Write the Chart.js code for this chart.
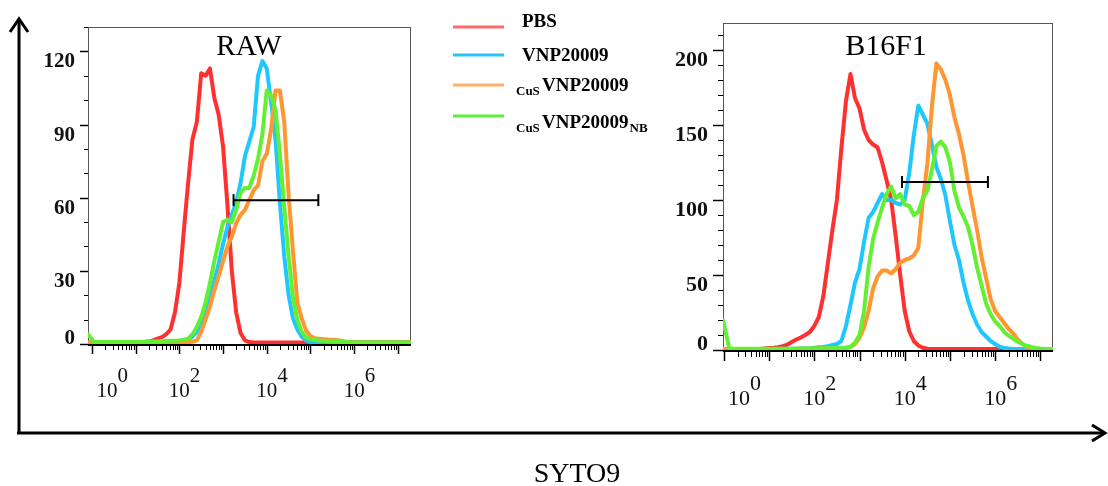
<!DOCTYPE html>
<html>
<head>
<meta charset="utf-8">
<script src="https://cdn.jsdelivr.net/npm/chart.js@4.4.1/dist/chart.umd.min.js"></script>
<style>
  html, body { margin: 0; padding: 0; background: #fff; }
  #wrap { position: relative; width: 1108px; height: 486px; overflow: hidden; }
  canvas, svg { position: absolute; left: 0; top: 0; }
</style>
</head>
<body>
<div id="wrap">
  <canvas id="rawChart" width="1108" height="486"></canvas>
  <canvas id="b16Chart" width="1108" height="486"></canvas>
  <svg width="1108" height="486" font-family="'Liberation Serif', 'Times New Roman', serif">
    <g stroke="#000" stroke-width="3" fill="none">
      <line x1="19" y1="434" x2="19" y2="20"/>
      <polyline points="10,32 19,19 28,32"/>
      <line x1="17" y1="433" x2="1104" y2="433"/>
      <polyline points="1092,425 1105,433 1092,441"/>
    </g>
    <g id="legend"></g>
    <text x="249" y="55" font-size="29" text-anchor="middle">RAW</text>
    <text x="886" y="55" font-size="30" text-anchor="middle">B16F1</text>
    <text x="577" y="482" font-size="28" text-anchor="middle">SYTO9</text>
  </svg>
</div>
<script>
// series names and colours
var seriesMain = ['PBS', 'VNP20009', 'VNP20009', 'VNP20009'];
var seriesPre = ['', '', 'CuS', 'CuS'];
var seriesSub = ['', '', '', 'NB'];
var lineColors = ['rgb(255,48,48)', 'rgb(30,200,255)', 'rgb(255,150,50)', 'rgb(100,240,50)'];
var legendColors = ['#ff6b6b', '#29c5f6', '#ffb066', '#5aee3a'];

// x bins, as powers of ten (SYTO9 intensity)
var rawExp = [-0.09, 0.05, 0.5, 1.0,
  1.2, 1.3, 1.4, 1.5, 1.6, 1.7, 1.8, 1.9,
  2.0, 2.1, 2.2, 2.3, 2.4, 2.5, 2.6, 2.7, 2.8, 2.9,
  3.0, 3.1, 3.2, 3.3, 3.4, 3.5, 3.6, 3.7, 3.8, 3.9,
  4.0, 4.1, 4.2, 4.3, 4.4, 4.5, 4.6, 4.7, 4.8, 4.9,
  5.0, 5.1, 5.2, 5.3, 5.4, 5.5, 5.6, 5.7, 5.8, 5.9,
  6.0, 6.1, 6.2,
  6.6, 7.0, 7.3];

var rawPBS = [0.6, 0.6, 0.6, 0.6,
  0.8, 1, 1.5, 2.2, 2.8, 4, 6, 13,
  25, 46, 66, 84, 91, 111, 110, 113, 101, 94,
  81, 57, 30, 13, 4.5, 1.5, 0.8, 0.6, 0.6, 0.6,
  0.6, 0.6, 0.6, 0.6, 0.6, 0.6, 0.6, 0.6, 0.6, 0.6,
  0.6, 0.6, 0.6, 0.6, 0.6, 0.6, 0.6, 0.6, 0.6, 0.6,
  0.6, 0.6, 0.6,
  0.6, 0.6, 0.6];
var rawVNP = [0.6, 0.6, 0.6, 0.6,
  0.6, 0.6, 0.7, 0.8, 0.8, 0.9, 1, 1.1,
  1.2, 1.5, 2, 3, 5, 9, 14, 19, 26, 33,
  41, 48, 53, 58, 66, 77, 83, 89, 110, 116,
  113, 99, 84, 58, 36, 20, 10.5, 6, 3, 1.5,
  0.8, 0.6, 0.6, 0.6, 0.6, 0.6, 0.6, 0.6, 0.6, 0.6,
  0.6, 0.6, 0.6,
  0.6, 0.6, 0.6];
var rawCuS = [0.6, 0.6, 0.6, 0.6,
  0.6, 0.6, 0.6, 0.6, 0.6, 0.6, 0.6, 0.6,
  0.6, 0.6, 0.7, 1, 1.5, 5, 10, 15.5, 22, 28,
  34, 40, 44, 49.5, 53, 55, 59, 63, 65, 75,
  78, 88, 104, 104, 91, 61, 38, 17, 10.5, 5.5,
  3.2, 2.4, 2.2, 2, 1.8, 1.7, 1.6, 1.3, 1, 0.8,
  0.6, 0.6, 0.6,
  0.6, 0.6, 0.6];
var rawNB = [4, 0.8, 0.8, 0.8,
  0.9, 1, 1, 1, 1.1, 1.2, 1.3, 1.3,
  1.4, 1.7, 2.2, 4, 7, 11, 17, 25, 34, 42,
  50, 51, 50, 55, 62, 64, 64, 69, 76, 86,
  104, 102, 96, 78, 56, 36, 19, 10, 5, 2.7,
  2, 1.7, 1.4, 1.3, 1.1, 1, 0.9, 0.8, 0.8, 0.7,
  0.6, 0.6, 0.6,
  0.6, 0.6, 0.6];

var b16Exp = [-0.02, 0.12, 0.5, 0.8, 0.9,
  1.0, 1.1, 1.2, 1.3, 1.4, 1.5, 1.6, 1.7, 1.8, 1.9,
  2.0, 2.1, 2.2, 2.3, 2.4, 2.5, 2.6, 2.7, 2.8, 2.9,
  3.0, 3.1, 3.2, 3.3, 3.4, 3.5, 3.6, 3.7, 3.8, 3.9,
  4.0, 4.1, 4.2, 4.3, 4.4, 4.5, 4.6, 4.7, 4.8, 4.9,
  5.0, 5.1, 5.2, 5.3, 5.4, 5.5, 5.6, 5.7, 5.8, 5.9,
  6.0, 6.1, 6.2, 6.3, 6.4, 6.5, 6.6, 6.7, 6.8, 6.9,
  7.0, 7.1, 7.28];

var b16PBS = [0.6, 0.6, 0.6, 0.6, 1,
  1.3, 1.5, 1.8, 2.5, 3.5, 5.3, 7, 8.3, 10, 12,
  16, 22, 36, 58, 80, 100, 135, 166, 184, 168,
  161, 147, 140, 137, 135, 125, 113, 100, 76, 50,
  26, 12.5, 6, 3, 1.5, 0.8, 0.6, 0.6, 0.6, 0.6,
  0.6, 0.6, 0.6, 0.6, 0.6, 0.6, 0.6, 0.6, 0.6, 0.6,
  0.6, 0.6, 0.6, 0.6, 0.6, 0.6, 0.6, 0.6, 0.6, 0.6,
  0.6, 0.6, 0.6];
var b16VNP = [0.6, 0.6, 0.6, 0.6, 0.6,
  0.6, 0.6, 0.7, 0.8, 0.8, 0.9, 0.9, 1, 1, 1.2,
  1.5, 1.8, 2, 2.6, 3.3, 4, 6, 16, 30, 45,
  54, 72, 88, 92, 98, 104, 100, 100, 98, 97,
  100, 118, 143, 163, 157, 151, 137, 122, 114, 103,
  86, 70, 60, 45, 33, 24, 17, 12, 9, 6,
  4, 2.2, 1.4, 1, 0.7, 0.6, 0.6, 0.6, 0.6, 0.6,
  0.6, 0.6, 0.6];
var b16CuS = [0.6, 0.6, 0.6, 0.6, 0.6,
  0.6, 0.6, 0.6, 0.6, 0.7, 0.7, 0.8, 0.8, 0.8, 0.9,
  0.9, 1, 1, 1, 1, 1.1, 1.1, 1.2, 2, 4,
  8, 15, 26, 41, 49, 53, 53, 51, 54, 58,
  60, 61, 63, 68, 99, 124, 162, 191, 187, 180,
  170, 155, 144, 130, 112, 96, 80, 62, 48, 34,
  26, 22, 18, 14, 11, 7, 4.2, 2, 1.2, 0.8,
  0.6, 0.6, 0.6];
var b16NB = [20, 1, 0.8, 0.8, 0.8,
  0.8, 0.8, 0.8, 0.8, 0.9, 0.9, 0.9, 1, 1, 1,
  1.1, 1.1, 1.2, 1.2, 1.3, 1.3, 1.4, 1.6, 2, 5,
  10, 26, 55, 74, 85, 95, 104, 109, 101, 104,
  97, 96, 90, 92, 101, 106, 120, 136, 139, 135,
  125, 106, 95, 89, 82, 70, 55, 43, 31, 24,
  19, 16, 12, 9.5, 7.5, 5.5, 4, 2.8, 2, 1.4,
  1, 0.7, 0.6];

// gates
var rawGateX = [3.24, 5.18];
var rawGateY = 59;
var b16GateX = [3.94, 5.84];
var b16GateY = 112;

// axis ticks
var xTickExp = [0, 2, 4, 6];
var rawYMajor = [0, 30, 60, 90, 120];
var b16YMajor = [0, 50, 100, 150, 200];

// draws the FlowJo style frame, ticks and tick labels
var flowAxes = {
  id: 'flowAxes',
  beforeDatasetsDraw: function (chart, args, o) {
    var ctx = chart.ctx, a = chart.chartArea;
    var xs = chart.scales.x, ys = chart.scales.y;
    ctx.save();
    ctx.strokeStyle = '#555';
    ctx.lineWidth = 1;
    ctx.strokeRect(a.left + 0.5, a.top + 0.5, a.right - a.left - 1, a.bottom - a.top);
    ctx.strokeStyle = '#000';
    ctx.lineWidth = 2;
    ctx.beginPath();
    ctx.moveTo(a.left, a.bottom + 1);
    ctx.lineTo(a.right, a.bottom + 1);
    ctx.stroke();

    // y ticks
    ctx.fillStyle = '#111';
    ctx.font = 'bold ' + o.yFont + 'px "Liberation Serif", serif';
    ctx.textAlign = 'right';
    ctx.textBaseline = 'alphabetic';
    for (var v = 0; v <= ys.max; v += 10) {
      var y = Math.round(ys.getPixelForValue(v)) + 0.5;
      var major = o.yMajor.indexOf(v) >= 0;
      ctx.lineWidth = major ? 1.5 : 1;
      ctx.beginPath();
      ctx.moveTo(a.left - (major ? o.yMajorLen : o.yMinorLen), y);
      ctx.lineTo(a.left, y);
      ctx.stroke();
      if (major) {
        ctx.fillText(String(v), a.left - o.yMajorLen - 5, v === 0 ? y - 1 : y + 15);
      }
    }

    // x ticks (log decades)
    var yb = a.bottom + 1;
    for (var d = 0; d <= 7; d++) {
      for (var k = 1; k <= 9; k++) {
        var val = k * Math.pow(10, d);
        if (val < xs.min || val > xs.max) continue;
        var x = Math.round(xs.getPixelForValue(val)) + 0.5;
        ctx.lineWidth = k === 1 ? 1.5 : 1;
        ctx.beginPath();
        ctx.moveTo(x, yb);
        ctx.lineTo(x, yb + (k === 1 ? o.xMajorLen : o.xMinorLen));
        ctx.stroke();
      }
    }
    ctx.font = o.xFont + 'px "Liberation Serif", serif';
    xTickExp.forEach(function (e) {
      var x = xs.getPixelForValue(Math.pow(10, e)) + (e === 0 ? 15 : 0);
      ctx.textAlign = 'center';
      ctx.fillText('10', x, o.xLabelBase);
      var w = ctx.measureText('10').width;
      ctx.textAlign = 'left';
      ctx.fillText(String(e), x + w / 2, o.xLabelBase - 15);
    });
    ctx.restore();
  }
};

function makeDatasets(exps, series, gateX, gateY) {
  var sets = series.map(function (vals, s) {
    return {
      data: exps.map(function (e, i) { return { x: Math.pow(10, e), y: vals[i] }; }),
      borderColor: lineColors[s],
      borderWidth: 4,
      borderJoinStyle: 'round',
      borderCapStyle: 'round',
      pointRadius: 0,
      tension: 0,
      fill: false,
      order: 3 - s
    };
  });
  sets.push({
    data: gateX.map(function (e) { return { x: Math.pow(10, e), y: gateY }; }),
    borderColor: '#000',
    borderWidth: 2,
    pointStyle: 'line',
    rotation: 90,
    pointRadius: 6,
    pointBorderWidth: 2,
    pointBorderColor: '#000',
    order: -1
  });
  return sets;
}

function makeChart(id, box, exps, series, gateX, gateY, xMinExp, xMaxExp, yMax, axisOpts) {
  return new Chart(document.getElementById(id), {
    type: 'line',
    data: { datasets: makeDatasets(exps, series, gateX, gateY) },
    options: {
      responsive: false,
      animation: false,
      devicePixelRatio: 1,
      layout: { padding: { left: box[0], top: box[1], right: 1108 - box[2], bottom: 486 - box[3] } },
      plugins: { legend: { display: false }, tooltip: { enabled: false }, flowAxes: axisOpts },
      scales: {
        x: { type: 'logarithmic', display: false, min: Math.pow(10, xMinExp), max: Math.pow(10, xMaxExp) },
        y: { type: 'linear', display: false, min: 0, max: yMax }
      }
    },
    plugins: [flowAxes]
  });
}

makeChart('rawChart', [88, 27, 411, 344], rawExp, [rawPBS, rawVNP, rawCuS, rawNB],
  rawGateX, rawGateY, -0.09, 7.3, 130,
  { yMajor: rawYMajor, yMajorLen: 8, yMinorLen: 4, xMajorLen: 9, xMinorLen: 5, yFont: 21, xFont: 21, xLabelBase: 397 });

makeChart('b16Chart', [723, 23, 1053, 350], b16Exp, [b16PBS, b16VNP, b16CuS, b16NB],
  b16GateX, b16GateY, -0.02, 7.28, 218,
  { yMajor: b16YMajor, yMajorLen: 10, yMinorLen: 5, xMajorLen: 10, xMinorLen: 6, yFont: 22, xFont: 22, xLabelBase: 405 });

// legend with sub/prefix subscripts
(function () {
  var g = document.getElementById('legend');
  var ns = 'http://www.w3.org/2000/svg';
  var lineY = [27, 55, 85, 116];
  var textY = [27, 61, 91, 128];
  function txt(s, x, y, size) {
    var t = document.createElementNS(ns, 'text');
    t.setAttribute('x', x);
    t.setAttribute('y', y);
    t.setAttribute('font-size', size);
    t.setAttribute('font-weight', 'bold');
    t.textContent = s;
    g.appendChild(t);
    return t;
  }
  seriesMain.forEach(function (name, i) {
    var l = document.createElementNS(ns, 'line');
    l.setAttribute('x1', 453); l.setAttribute('x2', 504);
    l.setAttribute('y1', lineY[i]); l.setAttribute('y2', lineY[i]);
    l.setAttribute('stroke', legendColors[i]);
    l.setAttribute('stroke-width', 3);
    g.appendChild(l);
    var x = 522;
    if (seriesPre[i]) {
      txt(seriesPre[i], 516, textY[i] + 4, 13);
      x = 542;
    }
    var m = txt(name, x, textY[i], 19);
    if (seriesSub[i]) {
      txt(seriesSub[i], x + m.getComputedTextLength() + 1, textY[i] + 4, 13);
    }
  });
})();
</script>
</body>
</html>
